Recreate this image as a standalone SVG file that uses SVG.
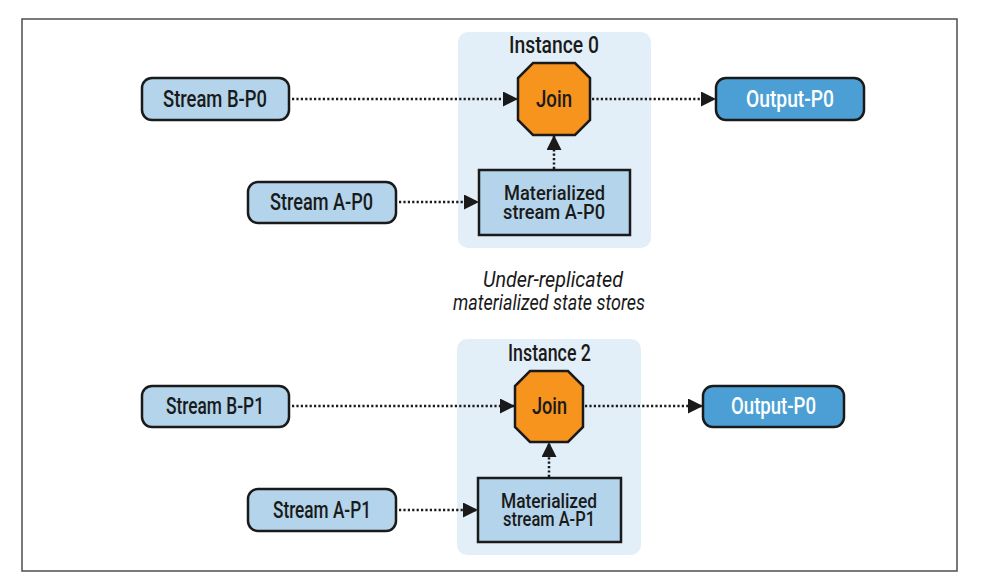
<svg xmlns="http://www.w3.org/2000/svg" width="999" height="586" viewBox="0 0 999 586">
<style>
.frame{fill:#fff;stroke:#4d4d4d;stroke-width:1.5}
.panel{fill:#e3eff8;stroke:none}
.src{fill:#b3d4ea;stroke:#1a1a1a;stroke-width:2.5}
.out{fill:#4b9fd5;stroke:#1a1a1a;stroke-width:2.5}
.join{fill:#f7941d;stroke:#1a1a1a;stroke-width:2.5}
.mat{fill:#b3d4ea;stroke:#1a1a1a;stroke-width:2.5}
text{font-family:Roboto,"Liberation Sans",sans-serif;font-weight:500;font-size:24px;fill:#1a1a1a;text-anchor:middle}
.w{fill:#fff}
.m{font-size:21px}
.it{font-style:italic;font-weight:400;font-size:22px}
.edge{fill:none;stroke:#1a1a1a;stroke-width:2.5;stroke-dasharray:2.2 2.2;marker-end:url(#ah)}
</style>
<defs>
<marker id="ah" markerUnits="userSpaceOnUse" markerWidth="16" markerHeight="16" refX="15" refY="7.5" orient="auto">
<path d="M0,0 L15,7.5 L0,15 z" fill="#1a1a1a"/>
</marker>
</defs>
<rect x="0" y="0" width="999" height="586" fill="#fff"/>
<rect class="frame" x="22" y="19" width="935" height="552"/>

<g id="instance0">
<rect class="panel" x="458" y="32" width="193" height="216" rx="10"/>
<text x="554" y="53" textLength="90" lengthAdjust="spacingAndGlyphs">Instance 0</text>
</g>
<g id="instance2">
<rect class="panel" x="457" y="339" width="184" height="216" rx="10"/>
<text x="549.5" y="361" textLength="83" lengthAdjust="spacingAndGlyphs">Instance 2</text>
</g>

<g id="caption">
<text class="it" x="553" y="287" textLength="140" lengthAdjust="spacingAndGlyphs">Under-replicated</text>
<text class="it" x="549" y="310" textLength="192" lengthAdjust="spacingAndGlyphs">materialized state stores</text>
</g>

<g id="connectors">
<path class="edge" d="M292,99 H518"/>
<path class="edge" d="M399,202 H479"/>
<path class="edge" d="M554,169 V135"/>
<path class="edge" d="M592,99 H716"/>
<path class="edge" d="M292,406 H515"/>
<path class="edge" d="M399,510 H478"/>
<path class="edge" d="M549,477 V442"/>
<path class="edge" d="M585,406 H703"/>
</g>

<g id="streamB-P0">
<rect class="src" x="142" y="78" width="147" height="42" rx="10"/>
<text x="215" y="107" textLength="104" lengthAdjust="spacingAndGlyphs">Stream B-P0</text>
</g>
<g id="streamA-P0">
<rect class="src" x="248" y="182" width="148" height="41" rx="10"/>
<text x="321.5" y="210" textLength="103" lengthAdjust="spacingAndGlyphs">Stream A-P0</text>
</g>
<g id="join0">
<polygon class="join" points="533,63 575,63 590,78 590,120 575,135 533,135 518,120 518,78"/>
<text x="554" y="107" textLength="36" lengthAdjust="spacingAndGlyphs">Join</text>
</g>
<g id="mat0">
<rect class="mat" x="479" y="170" width="151" height="65"/>
<text class="m" x="554.5" y="200" textLength="101" lengthAdjust="spacingAndGlyphs">Materialized</text>
<text class="m" x="554" y="219" textLength="102" lengthAdjust="spacingAndGlyphs">stream A-P0</text>
</g>
<g id="output0">
<rect class="out" x="716" y="78" width="148" height="42" rx="10"/>
<text class="w" x="790" y="107" textLength="88" lengthAdjust="spacingAndGlyphs">Output-P0</text>
</g>

<g id="streamB-P1">
<rect class="src" x="142" y="386" width="147" height="41" rx="10"/>
<text x="215" y="414" textLength="98" lengthAdjust="spacingAndGlyphs">Stream B-P1</text>
</g>
<g id="streamA-P1">
<rect class="src" x="248" y="489" width="148" height="42" rx="10"/>
<text x="322" y="518" textLength="98" lengthAdjust="spacingAndGlyphs">Stream A-P1</text>
</g>
<g id="join2">
<polygon class="join" points="530,371 568,371 583,386 583,427 568,442 530,442 515,427 515,386"/>
<text x="549.5" y="414" textLength="35" lengthAdjust="spacingAndGlyphs">Join</text>
</g>
<g id="mat2">
<rect class="mat" x="478" y="478" width="143" height="64"/>
<text class="m" x="549" y="508" textLength="96" lengthAdjust="spacingAndGlyphs">Materialized</text>
<text class="m" x="549" y="526" textLength="92" lengthAdjust="spacingAndGlyphs">stream A-P1</text>
</g>
<g id="output2">
<rect class="out" x="703" y="386" width="141" height="41" rx="10"/>
<text class="w" x="773.5" y="414" textLength="85" lengthAdjust="spacingAndGlyphs">Output-P0</text>
</g>
</svg>
